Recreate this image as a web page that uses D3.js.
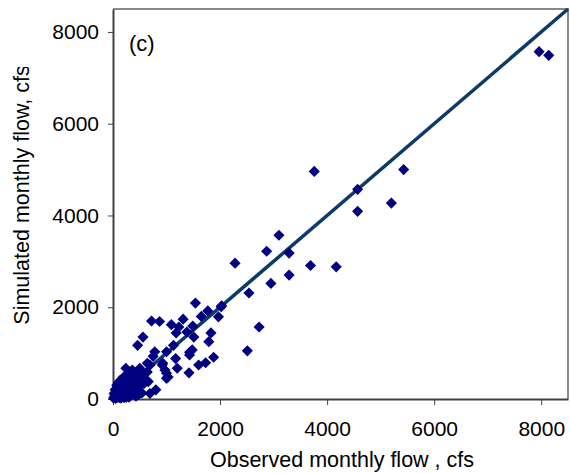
<!DOCTYPE html>
<html>
<head>
<meta charset="utf-8">
<script src="https://cdn.jsdelivr.net/npm/d3@7"></script>
<style>
body { margin: 0; background: #fff; }
svg text { font-family: "Liberation Sans", Arial, sans-serif; fill: #000; }
</style>
</head>
<body>
<div></div>
<script>
// observed vs simulated monthly flow, cfs
const observed = [
    7960, 8140, 3760, 5430, 4570, 5200, 4570, 3100, 2870, 3290, 3690, 4170, 3290, 2950,
    2280, 2540, 2030, 2730, 2510, 1540, 1770, 2020, 1970, 1650, 1310, 720, 870, 1090,
    1230, 1490, 1180, 1380, 1830, 1510, 560, 460, 1790, 1130, 780, 1000, 1480, 1430,
    1170, 750, 1880, 1730, 1600, 1200, 690, 920, 1030, 1420, 1000, 640, 500, 240,
    580, 660, 800, 690, 380, 930, 640, 970, 1000, 530, 360, 1430,
    10, 30, 50, 60, 80, 90, 110, 120, 140, 150, 160, 180, 190, 210, 220, 240, 250, 270,
    280, 300, 310, 330, 350, 370, 390, 410, 430, 450, 470, 500, 520, 540, 560, 590,
    130, 200, 70, 40, 100, 280, 350, 420, 480, 20, 240, 180,
    60, 150, 230, 320, 400, 90, 170, 260, 340, 120, 210, 300
]
const simulated = [
    7570, 7490, 4960, 5000, 4570, 4270, 4090, 3570, 3220, 3180, 2910, 2880, 2700, 2520,
    2960, 2310, 2030, 1570, 1050, 2090, 1920, 2010, 1790, 1800, 1740, 1700, 1690, 1620,
    1570, 1590, 1440, 1460, 1440, 1350, 1350, 1170, 1250, 1170, 1030, 1030, 1070, 960,
    880, 930, 910, 790, 740, 670, 740, 740, 480, 570, 560, 590, 670, 670,
    340, 380, 200, 120, 270, 780, 780, 630, 450, 380, 630, 1020,
    20, 60, 10, 110, 40, 180, 70, 250, 130, 20, 300, 200, 80, 360, 150, 260, 40, 420,
    180, 320, 90, 480, 230, 130, 400, 300, 60, 520, 200, 450, 300, 130, 520, 420,
    400, 480, 300, 200, 350, 550, 560, 250, 100, 120, 330, 420,
    230, 160, 100, 160, 200, 90, 340, 280, 400, 30, 30, 40
]
const xTicks = [0, 2000, 4000, 6000, 8000]
const yTicks = [0, 2000, 4000, 6000, 8000]
const fitLine = [[0, 0], [8500, 8500]]

const points = observed.map((d, i) => ({ obs: d, sim: simulated[i] }))

const w = 570
const h = 473
const plotLeft = 113
const plotRight = 568
const plotTop = 9
const plotBottom = 399

const svg = d3.select("div").append("svg")
    .attr("width", w)
    .attr("height", h)

const x = d3.scaleLinear().domain([0, 8500]).range([plotLeft, plotRight])
const y = d3.scaleLinear().domain([0, 8500]).range([plotBottom, plotTop])

// frame: top and right in light grey
svg.append("path")
    .attr("d", `M${plotLeft},${plotTop}H${plotRight}V${plotBottom}`)
    .attr("fill", "none")
    .attr("stroke", "#8a8a8a")
    .attr("stroke-width", 2)

const xAxis = d3.axisBottom(x)
    .tickValues(xTicks)
    .tickFormat(d3.format("d"))
    .tickSize(6)
    .tickPadding(16)
    .tickSizeOuter(0)

const yAxis = d3.axisLeft(y)
    .tickValues(yTicks)
    .tickFormat(d3.format("d"))
    .tickSize(5)
    .tickPadding(9)
    .tickSizeOuter(0)

const gx = svg.append("g")
    .attr("transform", `translate(0,${plotBottom})`)
    .call(xAxis)

const gy = svg.append("g")
    .attr("transform", `translate(${plotLeft},0)`)
    .call(yAxis)

for (const g of [gx, gy]) {
    g.select(".domain").attr("stroke", "#404040").attr("stroke-width", 2)
    g.selectAll(".tick line").attr("stroke", "#404040").attr("stroke-width", 1)
    g.selectAll(".tick text").attr("font-size", 21).attr("fill", "#000")
}

// 1:1 line
svg.append("path")
    .datum(fitLine)
    .attr("d", d3.line().x(d => x(d[0])).y(d => y(d[1])))
    .attr("fill", "none")
    .attr("stroke", "#0b3b66")
    .attr("stroke-width", 3.5)

svg.selectAll(".pt")
    .data(points)
    .enter()
    .append("path")
    .attr("class", "pt")
    .attr("d", d3.symbol().type(d3.symbolSquare).size(62))
    .attr("transform", d => `translate(${x(d.obs)},${y(d.sim)}) rotate(45)`)
    .attr("fill", "#000080")

svg.append("text")
    .attr("x", 129)
    .attr("y", 51)
    .attr("font-size", 22)
    .text("(c)")

svg.append("text")
    .attr("x", 342)
    .attr("y", 467)
    .attr("text-anchor", "middle")
    .attr("font-size", 21.5)
    .text("Observed monthly flow , cfs")

svg.append("defs").append("clipPath")
    .attr("id", "ylab")
    .append("rect")
    .attr("x", 0).attr("y", 67).attr("width", 40).attr("height", 400)

svg.append("g")
    .attr("clip-path", "url(#ylab)")
    .append("text")
    .attr("transform", "translate(29,195) rotate(-90)")
    .attr("text-anchor", "middle")
    .attr("font-size", 21.5)
    .text("Simulated monthly flow, cfs")
</script>
</body>
</html>
